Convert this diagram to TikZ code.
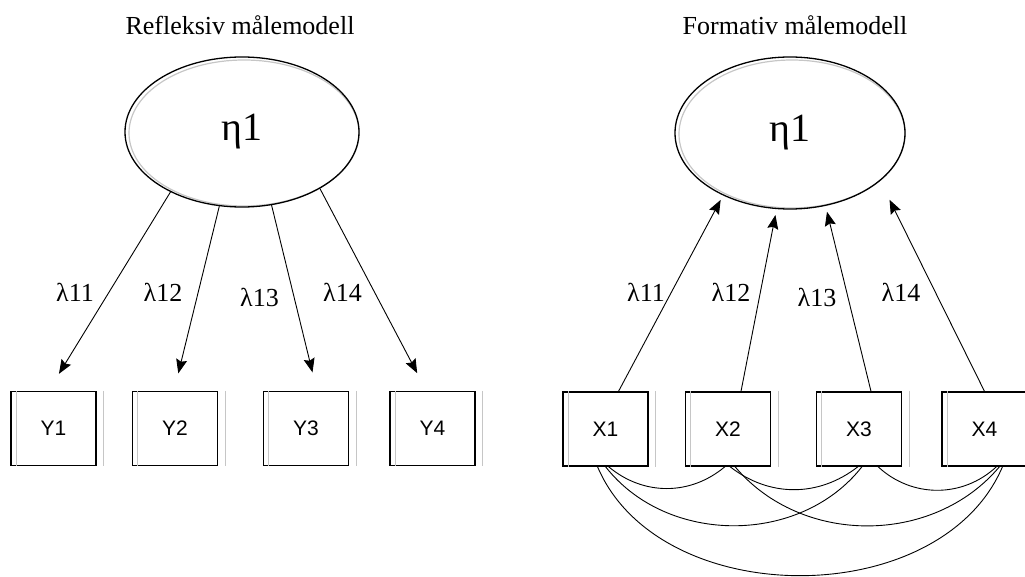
\documentclass[tikz,border=0pt]{standalone}
\usepackage{fontspec}
\setmainfont{Liberation Serif}
\newfontfamily\boxfont{Liberation Sans}
\usetikzlibrary{shapes.geometric, arrows.meta}

\begin{document}
\begin{tikzpicture}[x = 1pt, y = -1pt, line width = 0.9pt,
	tip/.style = {-{Stealth[length = 14pt, width = 11pt, inset = 2pt]}},
	latent/.style = {ellipse, draw, line width = 1.3pt, inner sep = 0pt, font = \fontsize{40}{48}\selectfont},
	indicator/.style = {rectangle, draw, line width = 1.3pt, minimum width = 85pt, minimum height = 74pt, inner sep = 0pt, font = \boxfont\fontsize{21}{25}\selectfont},
	title/.style = {font = \fontsize{26}{31}\selectfont},
	weight/.style = {font = \fontsize{26}{31}\selectfont},
	shadow/.style = {gray!45, line width = 1.2pt}]

	\useasboundingbox (0, 0) rectangle (1025, 577);

	% Titles
	
	\node [title] (titleL) at (240, 25) {Refleksiv målemodell};
	\node [title] (titleR) at (795, 25) {Formativ målemodell};
	
	% Latent variables (grey inner ring first)
	
	\draw [shadow] (244, 133) ellipse [x radius = 115pt, y radius = 73pt];
	\draw [shadow] (792, 134) ellipse [x radius = 113pt, y radius = 74pt];
	\node [latent, minimum width = 234pt, minimum height = 150pt] (etaL) at (242, 132) {η1};
	\node [latent, minimum width = 230pt, minimum height = 152pt] (etaR) at (790, 133) {η1};
	
	% Indicators
	
	\node [indicator] (y1) at (53.5, 428.5) {Y1};
	\node [indicator] (y2) at (175, 428.5) {Y2};
	\node [indicator] (y3) at (306, 428.5) {Y3};
	\node [indicator] (y4) at (432.5, 428.5) {Y4};
	
	\node [indicator] (x1) at (605.5, 429) {X1};
	\node [indicator] (x2) at (728, 429) {X2};
	\node [indicator] (x3) at (859, 429) {X3};
	\node [indicator] (x4) at (984.5, 429) {X4};
	
	\foreach \b in {y1, y2, y3, y4, x1, x2, x3, x4} {
		\draw [shadow] ([xshift = 6pt] \b.north west) -- ([xshift = 6pt] \b.south west);
		\draw [shadow] ([xshift = 7pt] \b.north east) -- ([xshift = 7pt] \b.south east);
	}
	
	% Loadings, reflective
	
	\draw [tip, shorten > = 20pt] (etaL.220) -- ([xshift = -5pt] y1.north);
	\draw [tip, shorten > = 18pt] (etaL.253) -- ([xshift = -1pt] y2.north);
	\draw [tip, shorten > = 19pt] (etaL.292) -- ([xshift = 11pt] y3.north);
	\draw [tip, shorten > = 20pt] (etaL.324) -- ([xshift = -6pt] y4.north);
	
	\node [weight] (lamL1) at (75, 292) {λ11};
	\node [weight] (lamL2) at (163, 292) {λ12};
	\node [weight] (lamL3) at (259.5, 297) {λ13};
	\node [weight] (lamL4) at (342.5, 292) {λ14};
	
	% Weights, formative
	
	\draw [tip, shorten > = 5pt] ([xshift = 13pt] x1.north) -- (etaR.223);
	\draw [tip, shorten > = 6pt] ([xshift = 13pt] x2.north) -- (etaR.260);
	\draw [tip, shorten > = 6pt] ([xshift = 12pt] x3.north) -- (etaR.296);
	\draw [tip, shorten > = 21pt] (x4.north) -- (etaR.332);
	
	\node [weight] (lamR1) at (646, 292) {λ11};
	\node [weight] (lamR2) at (731, 292) {λ12};
	\node [weight] (lamR3) at (817, 297) {λ13};
	\node [weight] (lamR4) at (901, 292) {λ14};
	
	% Covariances between the formative indicators
	
	\draw ([xshift = 3pt] x1.south) to [bend right = 40] ([xshift = -3pt] x2.south);
	\draw ([xshift = 2pt] x2.south) to [bend right = 38] ([xshift = -1pt] x3.south);
	\draw ([xshift = 19pt] x3.south) to [bend right = 43] ([xshift = 12pt] x4.south);
	\draw (x1.south) to [bend right = 52] ([xshift = 3pt] x3.south);
	\draw ([xshift = 7pt] x2.south) to [bend right = 50] ([xshift = 15pt] x4.south);
	\draw ([xshift = -8pt] x1.south) to [bend right = 67] ([xshift = 18pt] x4.south);
	
\end{tikzpicture}
\end{document}
